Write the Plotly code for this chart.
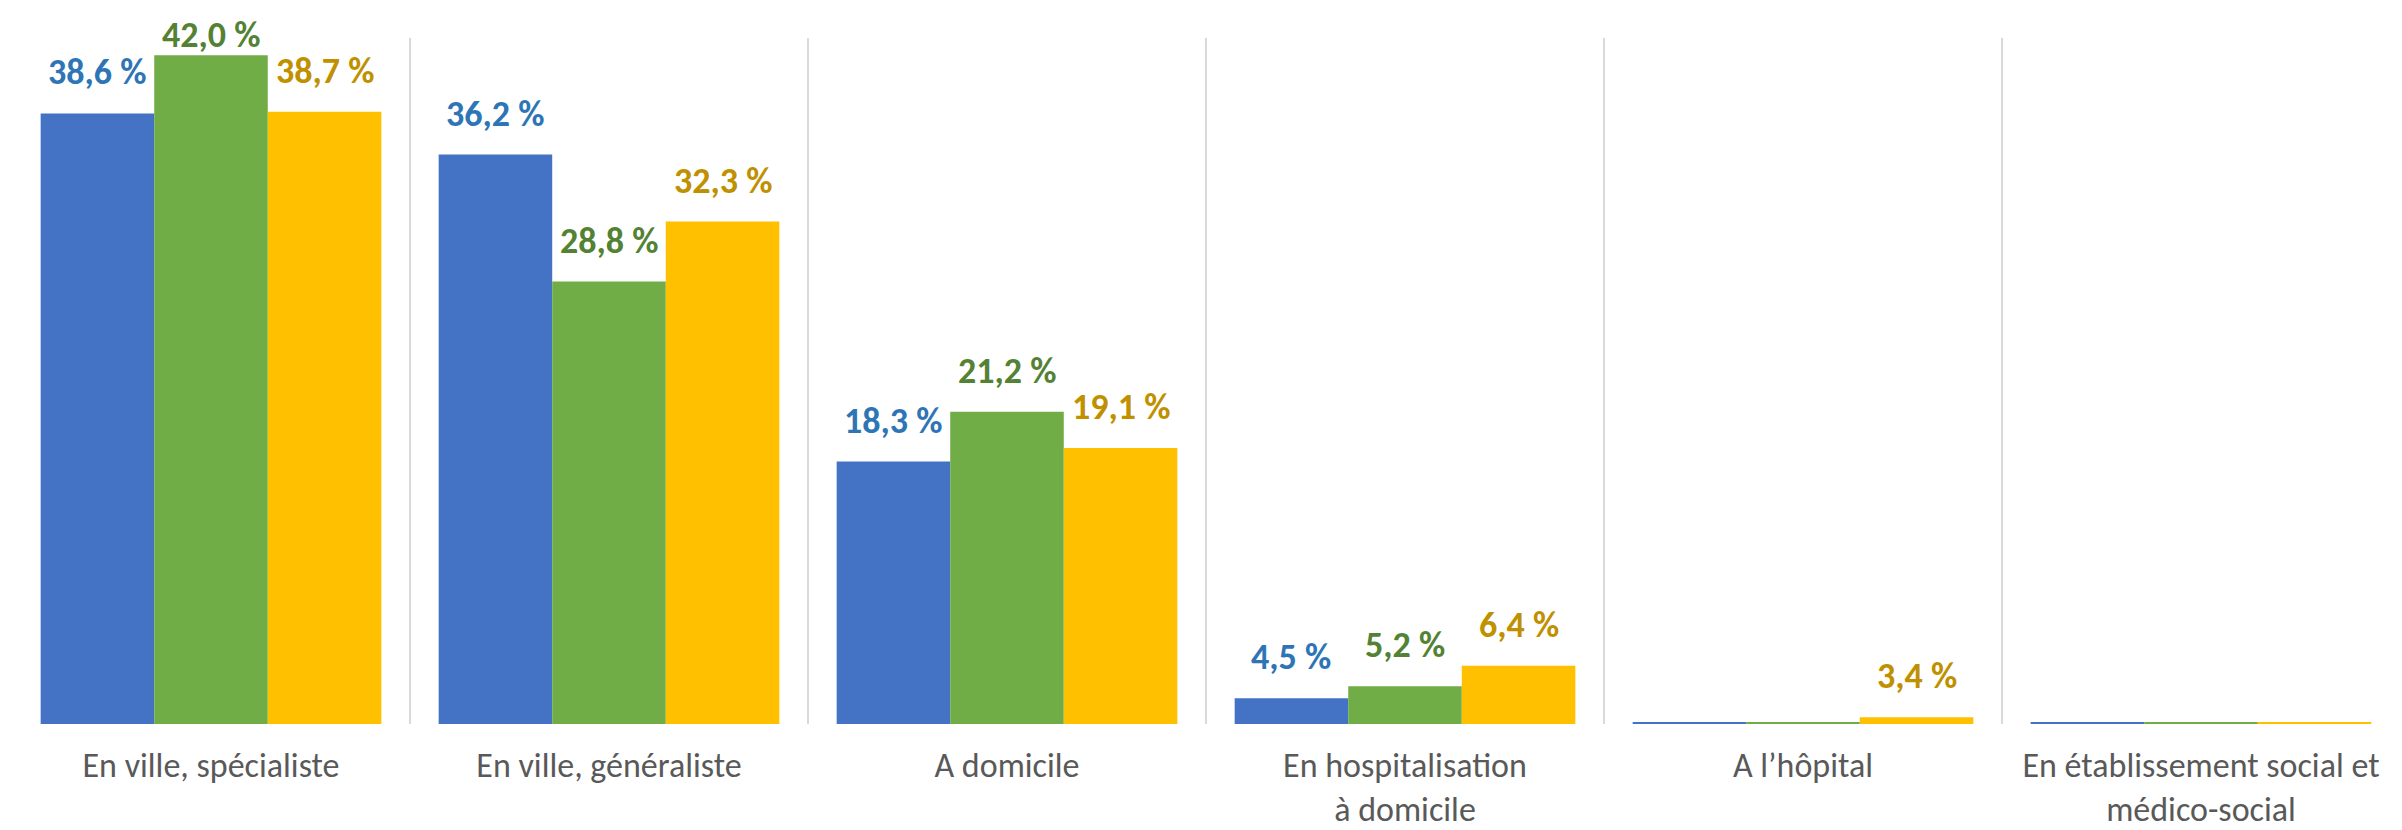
import plotly.graph_objects as go

# ---- data ----
categories = [
    "En ville, spécialiste",
    "En ville, généraliste",
    "A domicile",
    "En hospitalisation<br>à domicile",
    "A l’hôpital",
    "En établissement social et<br>médico-social",
]
series_names = ["Série 1", "Série 2", "Série 3"]
blue_values = [38.6, 36.2, 18.3, 4.5, 1.5, 0.5]     # last values below axis minimum (not labelled)
green_values = [42.0, 28.8, 21.2, 5.2, 1.5, 0.5]
yellow_values = [38.7, 32.3, 19.1, 6.4, 3.4, 0.5]

bar_colors = ["#4472C4", "#70AD47", "#FFC000"]
label_colors = ["#2E75B6", "#548235", "#BF9000"]

Y_MIN, Y_MAX = 3.0, 43.0
BARGAP = 0.144
EPS = 0.09  # Excel draws clipped bars as a hairline at the axis minimum

W, H = 2402, 830
M_L, M_R, M_T, M_B = 12, 2, 38, 106
LABEL_SIZE = 36
LABEL_SHIFT = 17
TOP_LIMIT = 14  # labels are kept inside the chart area (Excel behaviour)

all_series = [blue_values, green_values, yellow_values]
x_idx = list(range(len(categories)))

fig = go.Figure()
for j, (vals, name) in enumerate(zip(all_series, series_names)):
    fig.add_trace(go.Bar(
        x=x_idx,
        y=[max(v, Y_MIN + EPS) - Y_MIN for v in vals],
        base=Y_MIN,
        name=name,
        marker=dict(color=bar_colors[j], line=dict(width=0)),
        hovertext=[f"{v:.1f} %".replace(".", ",") for v in vals],
        hoverinfo="text",
    ))

px_per_unit = (H - M_T - M_B) / (Y_MAX - Y_MIN)
label_h = LABEL_SIZE * 1.2 + 2
w = (1 - BARGAP) / 3
annotations = []
for j, vals in enumerate(all_series):
    for i, v in enumerate(vals):
        if v <= Y_MIN:
            continue
        bar_top_px = M_T + (Y_MAX - v) * px_per_unit
        shift = min(LABEL_SHIFT, bar_top_px - label_h - TOP_LIMIT)
        annotations.append(dict(
            x=i + (j - 1) * w, y=v, xref="x", yref="y",
            text=f"{v:.1f} %".replace(".", ","),
            showarrow=False, yanchor="bottom", xanchor="center",
            yshift=shift,
            font=dict(family="Calibri, Carlito, Lato, sans-serif", size=LABEL_SIZE,
                      color=label_colors[j], weight="bold"),
        ))

fig.update_layout(
    width=W, height=H,
    margin=dict(l=M_L, r=M_R, t=M_T, b=M_B, autoexpand=False),
    paper_bgcolor="white", plot_bgcolor="white",
    barmode="group", bargap=BARGAP, bargroupgap=0,
    showlegend=False,
    annotations=annotations,
    font=dict(family="Calibri, Carlito, Lato, sans-serif", color="#595959"),
)
fig.update_xaxes(
    range=[-0.5, 5.5],
    automargin=False,
    tickmode="array", tickvals=x_idx, ticktext=categories,
    tickfont=dict(size=34, color="#595959"),
    ticks="", showgrid=False, zeroline=False, showline=False,
    ticklabelstandoff=18,
    minor=dict(tickmode="array",
               tickvals=[i - 0.5 for i in range(len(categories) + 1)],
               showgrid=True, gridcolor="#D9D9D9", gridwidth=2, ticks=""),
)
fig.update_yaxes(range=[Y_MIN, Y_MAX], visible=False, showgrid=False,
                 zeroline=False, automargin=False)

fig.write_html("out.html",
               config={"displayModeBar": False},
               post_script="document.body.style.margin='0';document.body.style.overflow='hidden';")
